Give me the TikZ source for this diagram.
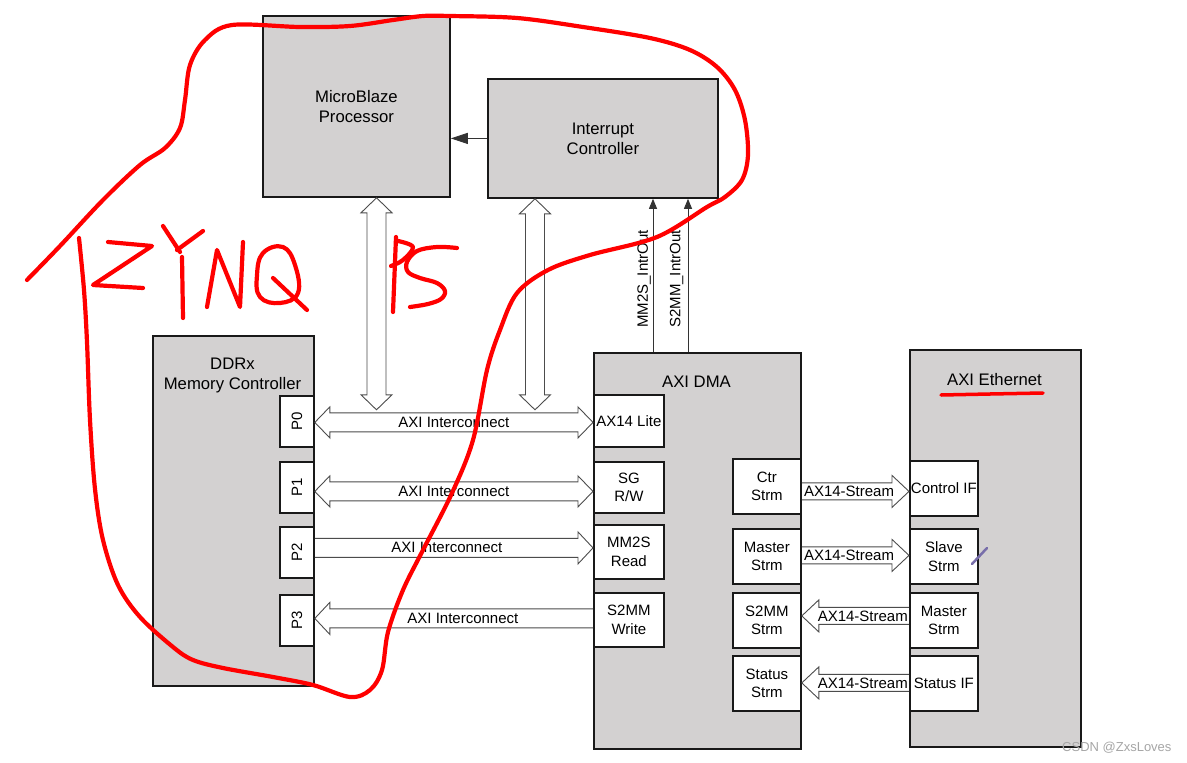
\documentclass[tikz,border=0pt]{standalone}
\usepackage{fontspec}
\setmainfont{Liberation Sans}
\usetikzlibrary{calc,arrows.meta}
\definecolor{boxgray}{RGB}{211,209,209}
\definecolor{annred}{RGB}{255,0,0}
\definecolor{penmark}{RGB}{120,110,170}
\tikzset{
 blk/.style={draw=black!90, line width=1.8pt, fill=boxgray, inner sep=0pt, anchor=north west, align=center},
 port/.style={draw=black!90, line width=1.8pt, fill=white, inner sep=0pt, anchor=north west, align=center, font=\fontsize{15}{18.5}\selectfont},
 title/.style={align=center, font=\fontsize{16.7}{20}\selectfont},
 lbl/.style={font=\fontsize{15}{18}\selectfont, inner sep=0pt},
 hollow/.style={draw=black!70, line width=0.9pt, line join=miter},
 sig/.style={draw=black!80, line width=0.9pt, -{Triangle[length=10pt,width=8pt]}},
 ink/.style={draw=annred, line width=4.2pt, line cap=round, line join=round},
}
% #1 left tip, #2 right tip, #3 half shaft, #4 half head, #5 head length
\newcommand\HArrowDouble[5]{\draw[hollow] let \p1=(#1), \p2=(#2) in (\x1,\y1) -- (\x1+#5,\y1+#4) -- (\x1+#5,\y1+#3) -- (\x2-#5,\y1+#3) -- (\x2-#5,\y1+#4) -- (\x2,\y1) -- (\x2-#5,\y1-#4) -- (\x2-#5,\y1-#3) -- (\x1+#5,\y1-#3) -- (\x1+#5,\y1-#4) -- cycle;}
% #1 tail (left), #2 tip (right)
\newcommand\HArrowRight[5]{\draw[hollow] let \p1=(#1), \p2=(#2) in (\x1,\y1+#3) -- (\x2-#5,\y1+#3) -- (\x2-#5,\y1+#4) -- (\x2,\y1) -- (\x2-#5,\y1-#4) -- (\x2-#5,\y1-#3) -- (\x1,\y1-#3);}
% #1 tip (left), #2 tail (right)
\newcommand\HArrowLeft[5]{\draw[hollow] let \p1=(#1), \p2=(#2) in (\x2,\y1+#3) -- (\x1+#5,\y1+#3) -- (\x1+#5,\y1+#4) -- (\x1,\y1) -- (\x1+#5,\y1-#4) -- (\x1+#5,\y1-#3) -- (\x2,\y1-#3);}
% #1 top tip, #2 bottom tip
\newcommand\VArrowDouble[5]{\draw[hollow] let \p1=(#1), \p2=(#2) in (\x1,\y1) -- (\x1+#4,\y1-#5) -- (\x1+#3,\y1-#5) -- (\x1+#3,\y2+#5) -- (\x1+#4,\y2+#5) -- (\x1,\y2) -- (\x1-#4,\y2+#5) -- (\x1-#3,\y2+#5) -- (\x1-#3,\y1-#5) -- (\x1-#4,\y1-#5) -- cycle;}

\begin{document}
\begin{tikzpicture}[x=1pt,y=-1pt]
\fill[white] (0,0) rectangle (1187,763);
\useasboundingbox (0,0) rectangle (1187,763);

% main blocks
\node[blk, title, minimum width=187pt, minimum height=181pt] (mb) at (262,15) {MicroBlaze\\Processor};
\node[blk, title, minimum width=230pt, minimum height=119pt] (ic) at (487,78) {Interrupt\\Controller};
\node[blk, minimum width=161pt, minimum height=350pt] (ddr) at (152,335) {};
\node[title] (ddrt) at (232.5,375) {DDRx\\Memory Controller};
\node[blk, minimum width=207pt, minimum height=396pt] (dma) at (593,352) {};
\node[title] (dmat) at (696.5,382) {AXI DMA};
\node[blk, minimum width=171pt, minimum height=397pt] (eth) at (909,349) {};
\node[title] (etht) at (994.5,380) {AXI Ethernet};

% DDR ports
\node[port, minimum width=34pt, minimum height=51pt] (p0) at (279,395) {};
\node[lbl, rotate=90] (p0t) at (p0.center) {P0};
\node[port, minimum width=34pt, minimum height=51pt] (p1) at (279,461) {};
\node[lbl, rotate=90] (p1t) at (p1.center) {P1};
\node[port, minimum width=34pt, minimum height=51pt] (p2) at (279,526) {};
\node[lbl, rotate=90] (p2t) at (p2.center) {P2};
\node[port, minimum width=34pt, minimum height=51pt] (p3) at (279,594) {};
\node[lbl, rotate=90] (p3t) at (p3.center) {P3};

% DMA ports
\node[port, minimum width=70pt, minimum height=52pt] (dp0) at (593,394) {AX14 Lite};
\node[port, minimum width=70pt, minimum height=51pt] (dp1) at (593,461) {SG\\R/W};
\node[port, minimum width=70pt, minimum height=54pt] (dp2) at (593,524) {MM2S\\Read};
\node[port, minimum width=70pt, minimum height=54pt] (dp3) at (593,592) {S2MM\\Write};
\node[port, minimum width=68pt, minimum height=55pt] (ctr) at (732,458) {Ctr\\Strm};
\node[port, minimum width=68pt, minimum height=55pt] (mst) at (732,528) {Master\\Strm};
\node[port, minimum width=68pt, minimum height=55pt] (s2s) at (732,592) {S2MM\\Strm};
\node[port, minimum width=68pt, minimum height=55pt] (sts) at (732,655) {Status\\Strm};

% Ethernet ports
\node[port, minimum width=68pt, minimum height=55pt] (cif) at (909,460) {Control IF};
\node[port, minimum width=68pt, minimum height=55pt] (sls) at (909,528) {Slave\\Strm};
\node[port, minimum width=68pt, minimum height=55pt] (ems) at (909,592) {Master\\Strm};
\node[port, minimum width=68pt, minimum height=55pt] (sif) at (909,655) {Status IF};

% interrupt to processor
\draw[sig, -{Triangle[length=17pt,width=11pt]}] (ic.west) -- (ic.west -| mb.east);

% interrupt lines
\coordinate (m2s) at ($(dma.north west)+(60,0)$);
\coordinate (s2m) at ($(dma.north west)+(95,0)$);
\draw[sig] (m2s) -- (m2s |- ic.south);
\draw[sig] (s2m) -- (s2m |- ic.south);
\node[lbl, rotate=90] (m2sl) at (644,279) {MM2S\_IntrOut};
\node[lbl, rotate=90] (s2ml) at (676.5,279) {S2MM\_IntrOut};

% vertical hollow double arrows
\coordinate (v1a) at ($(mb.south west)+(114.5,0)$);
\coordinate (v1b) at ($(v1a)+(0,212)$);
\VArrowDouble{v1a}{v1b}{9.5pt}{15.5pt}{15pt}
\coordinate (v2a) at ($(ic.south west)+(48,0)$);
\coordinate (v2b) at ($(v2a)+(0,211)$);
\VArrowDouble{v2a}{v2b}{9.5pt}{15.5pt}{15pt}

% AXI interconnect arrows
\coordinate (r0a) at ($(p0.east)+(0,1)$);
\coordinate (r0b) at (dp0.west |- r0a);
\HArrowDouble{r0a}{r0b}{9.5pt}{15.5pt}{15pt}
\node[lbl] (r0l) at ($(r0a)!0.5!(r0b)$) {AXI Interconnect};

\coordinate (r1a) at ($(p1.east)+(0,4)$);
\coordinate (r1b) at (dp1.west |- r1a);
\HArrowDouble{r1a}{r1b}{9.5pt}{15.5pt}{15pt}
\node[lbl] (r1l) at ($(r1a)!0.5!(r1b)$) {AXI Interconnect};

\coordinate (r2a) at ($(p2.east)+(0,-4.5)$);
\coordinate (r2b) at (dp2.west |- r2a);
\HArrowRight{r2a}{r2b}{9.5pt}{16pt}{15pt}
\node[lbl] (r2l) at ($(r2a)!0.5!(r2b)+(-7,0)$) {AXI Interconnect};

\coordinate (r3a) at ($(p3.east)+(0,-2)$);
\coordinate (r3b) at (dp3.west |- r3a);
\HArrowLeft{r3a}{r3b}{9.5pt}{16pt}{15pt}
\node[lbl] (r3l) at ($(r3a)!0.5!(r3b)+(9,0)$) {AXI Interconnect};

% AXI stream arrows
\coordinate (s0a) at ($(ctr.east)+(0,5)$);
\coordinate (s0b) at (cif.west |- s0a);
\HArrowRight{s0a}{s0b}{8.5pt}{16pt}{17pt}
\node[lbl, anchor=west] (s0l) at ($(s0a)+(2,0)$) {AX14-Stream};

\coordinate (s1a) at ($(mst.east)+(0,-1)$);
\coordinate (s1b) at (sls.west |- s1a);
\HArrowRight{s1a}{s1b}{8.5pt}{16pt}{17pt}
\node[lbl, anchor=west] (s1l) at ($(s1a)+(2,0)$) {AX14-Stream};

\coordinate (s2a) at ($(s2s.east)+(0,-4.5)$);
\coordinate (s2b) at (ems.west |- s2a);
\HArrowLeft{s2a}{s2b}{8.5pt}{16pt}{17pt}
\node[lbl, anchor=east] (s2l) at ($(s2b)+(-1,0)$) {AX14-Stream};

\coordinate (s3a) at ($(sts.east)+(0,-0.5)$);
\coordinate (s3b) at (sif.west |- s3a);
\HArrowLeft{s3a}{s3b}{8.5pt}{16pt}{17pt}
\node[lbl, anchor=east] (s3l) at ($(s3b)+(-1,0)$) {AX14-Stream};

% small pen mark
\draw[penmark, line width=2.5pt, line cap=round] (987,548) -- (972,564);

% red freehand annotation
\draw[ink] plot[smooth, tension=0.55] coordinates {(27,280) (60,246) (103,200) (140,165) (165,148) (180,128) (185,100) (190,65) (205,40) (232,25) (300,27) (350,26) (393,20) (423,16) (450,16) (517,18) (583,27) (650,38) (690,50) (717,67) (735,90) (745,120) (748,155) (742,180) (725,197) (707,207) (657,237) (590,255) (548,270) (517,293) (500,330) (487,370) (473,440) (452,493) (423,550) (403,590) (388,632) (382,670) (370,690) (350,697) (313,685) (273,677) (223,668) (193,660) (173,647) (140,617) (118,585) (103,540) (95,489) (90,420) (87,342) (84,290) (79,238)};
% Z
\draw[ink] (108,242) -- (152,246) -- (93,285) -- (143,288);
% Y
\draw[ink] (163,226) -- (180,252);
\draw[ink] (203,231) -- (177,250);
\draw[ink] (182,257) -- (183,318);
% N
\draw[ink] (207,307) -- (217,250) -- (240,307) -- (243,242);
% Q
\draw[ink] plot[smooth cycle, tension=0.7] coordinates {(283,247) (295,265) (298,293) (280,303) (260,297) (257,275) (263,253)};
\draw[ink] (273,278) -- (307,310);
% P
\draw[ink] (396,237) -- (393,312);
\draw[ink] plot[smooth, tension=0.6] coordinates {(398,241) (413,247) (403,260) (391,266)};
% S
\draw[ink] plot[smooth, tension=0.6] coordinates {(457,248) (437,247) (417,251) (407,262) (408,272) (420,278) (437,283) (445,291) (441,299) (428,304) (410,307)};
% underline
\draw[ink, line width=3.5pt] (941,395) -- (990,394) -- (1043,393);

% watermark
\node[text=black!35, font=\fontsize{13}{13}\selectfont, anchor=west, inner sep=0pt] (wm) at (1062,748) {CSDN @ZxsLoves};
\end{tikzpicture}
\end{document}
